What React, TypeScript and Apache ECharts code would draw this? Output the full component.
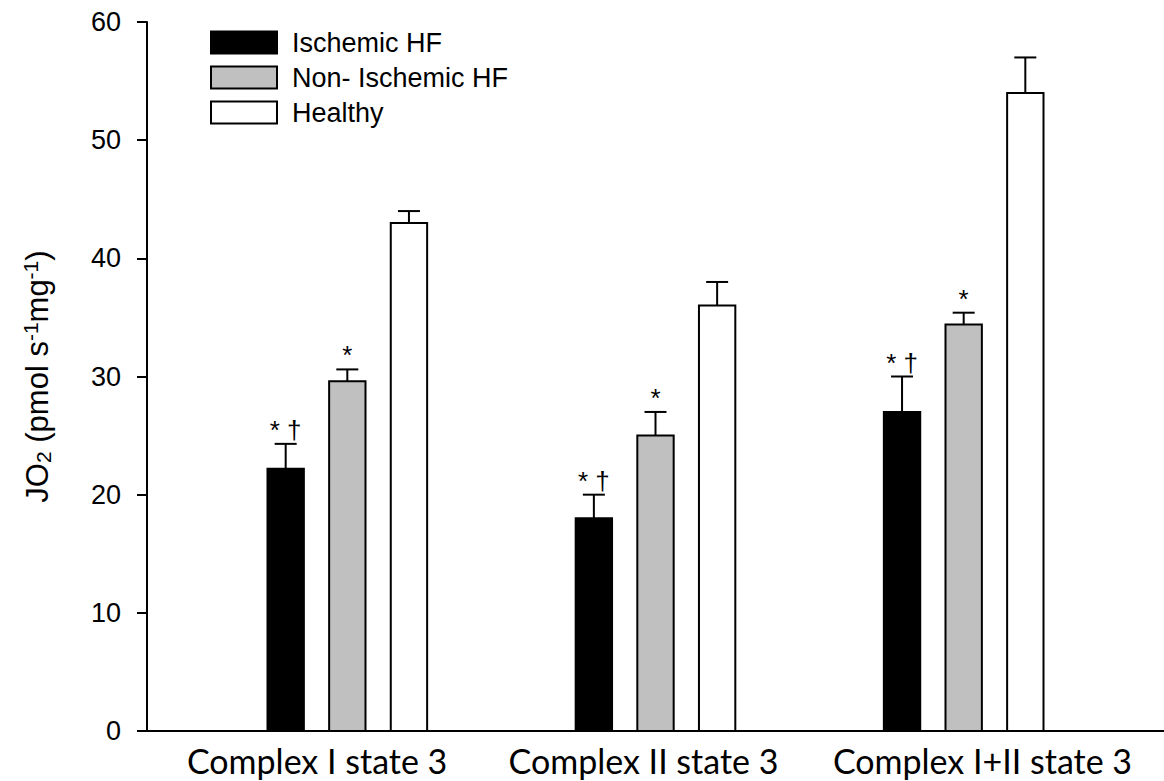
import React, { useEffect, useRef } from "react";
import * as echarts from "echarts";

// ---- data ----
const categories = ["Complex I state 3", "Complex II state 3", "Complex I+II state 3"];
const categoryPositions = [1, 2, 3];
// positions of the category tick labels on the x scale (as placed in the original figure)
const categoryLabelPositions = [0.902, 1.961, 3.061];

const seriesNames = ["Ischemic HF", "Non- Ischemic HF", "Healthy"];
const ischemicValues = [22.2, 18.0, 27.0];
const ischemicErrors = [2.1, 2.0, 3.0];
const nonIschemicValues = [29.6, 25.0, 34.4];
const nonIschemicErrors = [1.0, 2.0, 1.0];
const healthyValues = [43.0, 36.0, 54.0];
const healthyErrors = [1.0, 2.0, 3.0];

const ischemicMarks = ["* †", "* †", "* †"];
const nonIschemicMarks = ["*", "*", "*"];
const healthyMarks = ["", "", ""];

const yMin = 0;
const yMax = 60;
const yInterval = 10;

// ---- styles ----
const ARIAL = "'Liberation Sans', Arial, sans-serif";
const CAL = "Lato, 'Open Sans', sans-serif";

const defs = [
  { name: seriesNames[0], values: ischemicValues, errors: ischemicErrors, marks: ischemicMarks, fill: "#000000", slot: -1 },
  { name: seriesNames[1], values: nonIschemicValues, errors: nonIschemicErrors, marks: nonIschemicMarks, fill: "#c0c0c0", slot: 0 },
  { name: seriesNames[2], values: healthyValues, errors: healthyErrors, marks: healthyMarks, fill: "#ffffff", slot: 1 },
];

export default function App() {
  const ref = useRef<HTMLDivElement>(null);

  useEffect(() => {
    document.body.style.margin = "0";
    if (!ref.current) return;
    const chart = echarts.init(ref.current, null, { renderer: "svg" });

    const series = defs.map((d) => ({
      type: "custom",
      name: d.name,
      itemStyle: { color: d.fill, borderColor: "#000", borderWidth: 2 },
      data: d.values.map((v, i) => [categoryPositions[i], v, d.errors[i]]),
      encode: { x: 0, y: 1 },
      renderItem: (params: any, api: any) => {
        const x = api.value(0);
        const v = api.value(1);
        const e = api.value(2);
        const unit = api.size([1, 0])[0];
        const base = api.coord([x, 0]);
        const top = api.coord([x, v]);
        const errTop = api.coord([x, v + e]);
        const cx = base[0] + d.slot * unit * 0.2;
        const w = unit * 0.118;
        const capHalf = 11;
        const mark = d.marks[params.dataIndex];
        return {
          type: "group",
          children: [
            {
              type: "line",
              shape: { x1: cx, y1: top[1], x2: cx, y2: errTop[1] },
              style: { stroke: "#000", lineWidth: 2 },
            },
            {
              type: "line",
              shape: { x1: cx - capHalf, y1: errTop[1], x2: cx + capHalf, y2: errTop[1] },
              style: { stroke: "#000", lineWidth: 2 },
            },
            {
              type: "rect",
              shape: { x: cx - w / 2, y: top[1], width: w, height: base[1] - top[1] },
              style: { fill: d.fill, stroke: "#000", lineWidth: 2 },
            },
            {
              type: "text",
              x: cx,
              y: errTop[1] - 1,
              style: {
                text: mark,
                fill: "#000",
                fontSize: 26,
                fontFamily: ARIAL,
                align: "center",
                verticalAlign: "bottom",
              },
            },
          ],
        };
      },
    }));

    chart.setOption({
      animation: false,
      backgroundColor: "#ffffff",
      grid: { left: 147, right: 0, top: 22, bottom: 50, containLabel: false },
      legend: {
        orient: "vertical",
        left: 205,
        top: 24,
        itemWidth: 66,
        itemHeight: 22,
        itemGap: 8,
        icon: "rect",
        textStyle: { fontSize: 27, fontFamily: ARIAL, color: "#000", lineHeight: 22, padding: [0, 0, 0, 10] },
        data: defs.map((d) => ({
          name: d.name,
          itemStyle: { color: d.fill, borderColor: "#000", borderWidth: 2 },
        })),
      },
      xAxis: {
        type: "value",
        min: 0.35,
        max: 3.65,
        splitLine: { show: false },
        axisTick: { show: false },
        axisLine: { show: true, onZero: false, lineStyle: { color: "#000", width: 2 } },
        axisLabel: {
          customValues: categoryLabelPositions,
          formatter: (val: number) => {
            const idx = categoryLabelPositions.findIndex((p) => Math.abs(p - val) < 1e-6);
            return idx >= 0 ? categories[idx] : "";
          },
          fontSize: 34,
          fontFamily: CAL,
          color: "#000",
          margin: 12,
        },
      },
      yAxis: {
        type: "value",
        min: yMin,
        max: yMax,
        interval: yInterval,
        splitLine: { show: false },
        axisLine: { show: true, lineStyle: { color: "#000", width: 2 } },
        axisTick: { show: true, inside: false, length: 10, lineStyle: { color: "#000", width: 2 } },
        axisLabel: { fontSize: 27, fontFamily: ARIAL, color: "#000", margin: 26 },
        name: "{a|JO}{sub|2}{a| (pmol s}{sup|-1}{a|mg}{sup|-1}{a|)}",
        nameLocation: "middle",
        nameRotate: 90,
        nameGap: 93,
        nameTextStyle: {
          rich: {
            a: { fontSize: 31, fontFamily: ARIAL, color: "#000", lineHeight: 34, verticalAlign: "middle" },
            sub: { fontSize: 21, fontFamily: ARIAL, color: "#000", lineHeight: 20, verticalAlign: "bottom" },
            sup: { fontSize: 21, fontFamily: ARIAL, color: "#000", lineHeight: 20, verticalAlign: "top" },
          },
        },
      },
      series,
    });

    return () => chart.dispose();
  }, []);

  return (
    <div
      ref={ref}
      style={{ position: "absolute", left: 0, top: 0, width: 1164, height: 781, background: "#fff" }}
    />
  );
}
